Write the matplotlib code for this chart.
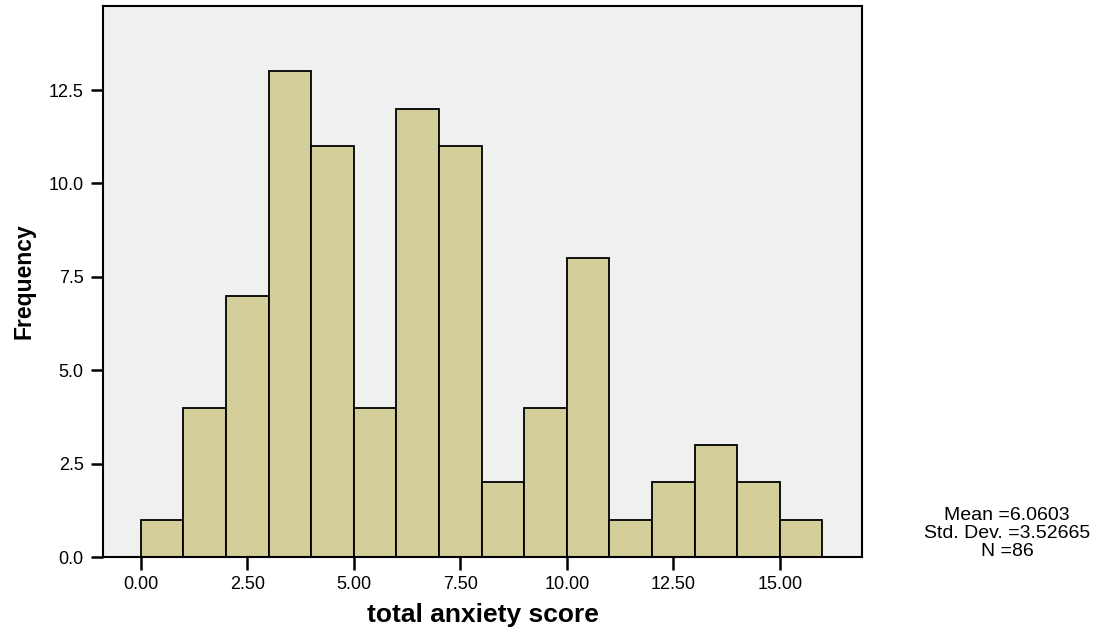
import matplotlib
matplotlib.use("Agg")
import matplotlib.pyplot as plt

plt.rcParams['font.family'] = ['Liberation Sans', 'DejaVu Sans']

# histogram bins (width 1) and their counts
bin_edges = list(range(0, 17))
counts = [1, 4, 7, 13, 11, 4, 12, 11, 2, 4, 8, 1, 2, 3, 2, 1]
x_ticks = [0, 2.5, 5, 7.5, 10, 12.5, 15]
y_ticks = [0, 2.5, 5, 7.5, 10, 12.5]
stats_text = "Mean =6.0603\nStd. Dev. =3.52665\nN =86"

fig = plt.figure(figsize=(11.16, 6.33), dpi=100)
ax = fig.add_axes([0.0923, 0.12, 0.68, 0.8705])
ax.set_facecolor('#f0f0f0')

ax.bar(bin_edges[:-1], counts, width=1, align='edge',
       color='#d3ce9a', edgecolor='black', linewidth=1.3, zorder=2)

ax.set_xlim(-0.89, 16.93)
ax.set_ylim(0, 14.75)
ax.set_xticks(x_ticks)
ax.set_xticklabels(['%.2f' % v for v in x_ticks])
ax.set_yticks(y_ticks)
ax.set_yticklabels(['%.1f' % v for v in y_ticks])
ax.tick_params(direction='out', length=9, width=1.8, labelsize=13, pad=5)

for s in ax.spines.values():
    s.set_linewidth(1.5)

ax.set_xlabel('total anxiety score', fontsize=19, fontweight='bold', labelpad=7)
ax.set_ylabel('Frequency', fontsize=16.5, fontweight='bold', labelpad=9)

fig.text(0.9025, 0.116, stats_text, ha='center', va='bottom',
         fontsize=14, linespacing=1.05)

fig.savefig('out.png', dpi=100)
